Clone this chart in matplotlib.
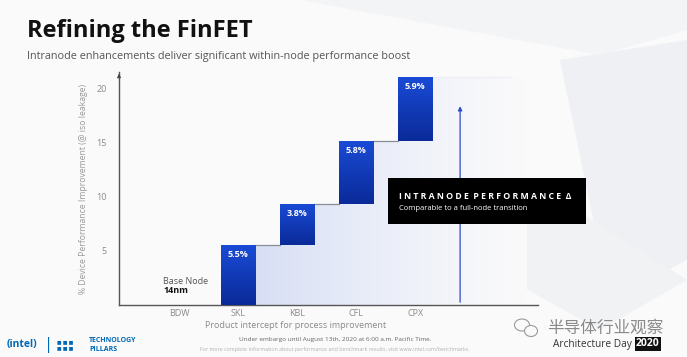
import numpy as np
import matplotlib.pyplot as plt
from matplotlib.patches import Rectangle, Polygon, FancyArrowPatch, Ellipse
from matplotlib.colors import LinearSegmentedColormap

# donnees
categories = ["BDW", "SKL", "KBL", "CFL", "CPX"]
gains = [0.0, 5.5, 3.8, 5.8, 5.9]          # gain par produit (%)
labels_gain = ["", "5.5%", "3.8%", "5.8%", "5.9%"]
yticks = [5, 10, 15, 20]

plt.rcParams['font.family'] = ['Open Sans', 'DejaVu Sans']

fig = plt.figure(figsize=(6.87, 3.57), dpi=100)
fig.patch.set_facecolor('#fafafb')

# fond clair avec quelques formes grises tres legeres
bg = fig.add_axes([0, 0, 1, 1], zorder=-10)
bg.set_xlim(0, 687)
bg.set_ylim(357, 0)
bg.axis('off')
bg.add_patch(Polygon([[560, 60], [687, 40], [687, 260], [610, 300]],
                     closed=True, color='#eef0f3', lw=0))
bg.add_patch(Polygon([[420, 230], [560, 200], [687, 280], [600, 330]],
                     closed=True, color='#f1f2f4', lw=0))
bg.add_patch(Polygon([[300, 0], [687, 0], [687, 30], [600, 55]],
                     closed=True, color='#f3f4f6', lw=0))
# petite icone wechat
bg.add_patch(Ellipse((522, 325), 15, 12, facecolor='#fafafb',
                     edgecolor='#9a9a9a', lw=0.8))
bg.add_patch(Ellipse((531, 331), 13, 11, facecolor='#fafafb',
                     edgecolor='#9a9a9a', lw=0.8))

# axe principal
ax = fig.add_axes([119 / 687, 52 / 357, 419 / 687, 233 / 357])
ax.patch.set_alpha(0)
ax.set_xlim(-1.02, 6.08)
ax.set_ylim(0, 21.5)

x = np.arange(len(categories))
tops = np.cumsum(gains)
bases = tops - np.array(gains)
w = 0.58

# zone bleu tres clair sous les marches
pts = [(x[1] - w / 2, 0)]
for i in range(1, len(categories)):
    pts.append((x[i] - w / 2, bases[i]))
    pts.append((x[i] - w / 2, tops[i]))
pts.append((5.9, tops[-1]))
pts.append((5.9, 0))
zone = Polygon(pts, closed=True, facecolor='none', edgecolor='none')
ax.add_patch(zone)
cmap_zone = LinearSegmentedColormap.from_list('zone', ['#fafafb', '#d5ddf5'])
hg = np.linspace(1, 0, 256)[None, :] ** 1.3
im = ax.imshow(np.tile(hg, (10, 1)), extent=[x[1], 5.9, 0, tops[-1]],
               cmap=cmap_zone, vmin=0, vmax=1, aspect='auto', zorder=1)
im.set_clip_path(zone)

# barres en degrade
vg = np.linspace(0, 1, 256)[:, None]
cmap_bar = LinearSegmentedColormap.from_list('bar', ['#0a2a98', '#1a4bd6'])
for i in range(1, len(categories)):
    r = Rectangle((x[i] - w / 2, bases[i]), w, gains[i], facecolor='none',
                  edgecolor='none')
    ax.add_patch(r)
    b = ax.imshow(vg, extent=[x[i] - w / 2, x[i] + w / 2, bases[i], tops[i]],
                  cmap=cmap_bar, origin='lower', aspect='auto', zorder=3)
    b.set_clip_path(r)
    ax.text(x[i], tops[i] - 0.45, labels_gain[i], color='white', fontsize=6.5,
            fontweight='bold', ha='center', va='top', zorder=4)
    # ligne de liaison grise
    if i < len(categories) - 1:
        ax.plot([x[i] + w / 2, x[i + 1] - w / 2], [tops[i], tops[i]],
                color='#8a8d96', lw=0.9, zorder=2)
ax.plot([x[-1] + w / 2, 5.6], [tops[-1], tops[-1]], color='#eceef4',
        lw=0.9, zorder=2)

# fleche verticale
ax.add_patch(FancyArrowPatch((4.76, 0), (4.76, 18.6), arrowstyle='-|>',
                             mutation_scale=6, color='#2a4fc0', lw=0.9,
                             zorder=2))

ax.text(-0.27, 2.2, "Base Node", fontsize=6.5, color='#555555', va='center')
ax.text(-0.27, 1.3, "14nm", fontsize=6.5, color='#111111',
        fontweight='bold', va='center')

ax.set_xticks(x)
ax.set_xticklabels(categories)
ax.set_yticks(yticks)
ax.tick_params(length=0, labelsize=6.5, colors='#8a8a8a')
ax.tick_params(axis='x', pad=3)
ax.tick_params(axis='y', pad=9)
for s in ['top', 'right']:
    ax.spines[s].set_visible(False)
for s in ['left', 'bottom']:
    ax.spines[s].set_color('#555555')
    ax.spines[s].set_linewidth(1.0)
ax.annotate('', xy=(-1.02, 21.6), xytext=(-1.02, 20.8),
            arrowprops=dict(arrowstyle='-|>', color='#444444', lw=0.8,
                            mutation_scale=5), annotation_clip=False)
ax.set_ylabel("% Device Performance Improvement (@ iso leakage)",
              fontsize=6.2, color='#9a9a9a', labelpad=6)
fig.text(296 / 687, 1 - 326 / 357, "Product intercept for process improvement",
         fontsize=6.5, color='#8a8a8a', ha='center', va='center')

# encadre noir
fig.patches.append(Rectangle((388 / 687, 1 - 224 / 357), 198 / 687, 46 / 357,
                             transform=fig.transFigure, facecolor='black',
                             zorder=5))
fig.text(399 / 687, 1 - 196 / 357, "I N T R A N O D E  P E R F O R M A N C E  Δ",
         fontsize=6.3, fontweight='bold', color='white', va='center',
         zorder=6)
fig.text(399 / 687, 1 - 208 / 357, "Comparable to a full-node transition",
         fontsize=5.5, color='white', va='center', zorder=6)

# titres
fig.text(27 / 687, 1 - 31 / 357, "Refining the FinFET", fontsize=17,
         fontweight='bold', color='#111111', va='center')
fig.text(27 / 687, 1 - 57 / 357,
         "Intranode enhancements deliver significant within-node performance boost",
         fontsize=7.8, color='#555555', va='center')

# pied de page
fig.text(7 / 687, 1 - 345 / 357, "(intel)", fontsize=7.5, color='#0068b5',
         fontweight='bold', va='center')
fig.text(44 / 687, 1 - 345 / 357, "|", fontsize=12, color='#0068b5',
         va='center')
fig.text(57 / 687, 1 - 345 / 357, "■ ■ ■\n■ ■ ■", fontsize=3.5,
         color='#0068b5', va='center', linespacing=1.3)
fig.text(89 / 687, 1 - 345 / 357, "TECHNOLOGY\nPILLARS", fontsize=5,
         color='#0068b5', fontweight='bold', va='center', linespacing=1.3)
fig.text(335 / 687, 1 - 339 / 357,
         "Under embargo until August 13th, 2020 at 6:00 a.m. Pacific Time.",
         fontsize=4.6, color='#666666', ha='center', va='center')
fig.text(335 / 687, 1 - 350 / 357,
         "For more complete information about performance and benchmark results, visit www.intel.com/benchmarks.",
         fontsize=3.8, color='#b0b0b0', ha='center', va='center')
fig.text(547 / 687, 1 - 328 / 357, "半导体行业观察", fontsize=12,
         color='#8a8a8a', va='center', family=['Noto Sans CJK SC', 'DejaVu Sans'])
fig.text(553 / 687, 1 - 344 / 357, "Architecture Day", fontsize=7.3,
         color='#333333', va='center')
fig.text(648 / 687, 1 - 344 / 357, "2020", fontsize=7.5, color='white',
         fontweight='bold', ha='center', va='center',
         bbox=dict(boxstyle='square,pad=0.15', facecolor='#111111',
                   edgecolor='none'))

fig.savefig('out.png', dpi=100, facecolor=fig.get_facecolor())
